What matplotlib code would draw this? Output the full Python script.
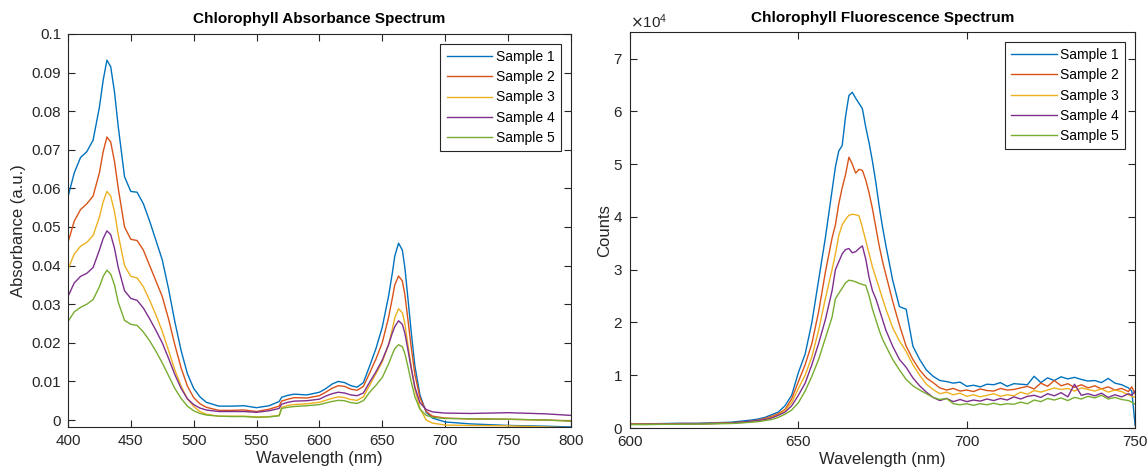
import numpy as np
import matplotlib
matplotlib.use('Agg')
import matplotlib.pyplot as plt

plt.rcParams['font.family'] = ['Liberation Sans', 'DejaVu Sans']

# absorbance spectrum
wl_abs = [400, 405, 410, 415, 420, 425, 428, 431, 434, 437, 440, 445, 450, 455, 460, 465, 470, 475,
          480, 485, 490, 495, 500, 505, 510, 520, 530, 540, 550, 560, 568, 570, 575, 580, 590, 600,
          605, 610, 615, 620, 625, 630, 635, 640, 645, 650, 655, 658, 660, 663, 666, 668, 670, 673,
          676, 680, 685, 690, 700, 720, 750, 780, 800]

abs1 = [0.0578, 0.0640, 0.0680, 0.0695, 0.0725, 0.0810, 0.0880, 0.0932, 0.0915, 0.0850, 0.0760,
        0.0630, 0.0592, 0.0590, 0.0560, 0.0515, 0.0465, 0.0415, 0.0340, 0.0255, 0.0180, 0.0120,
        0.0082, 0.0060, 0.0046, 0.0036, 0.0036, 0.0037, 0.0032, 0.0037, 0.0048, 0.0059, 0.0064,
        0.0067, 0.0065, 0.0072, 0.0081, 0.0093, 0.0100, 0.0097, 0.0089, 0.0085, 0.0097, 0.0140,
        0.0185, 0.0240, 0.0320, 0.0380, 0.0425, 0.0458, 0.0440, 0.0395, 0.0330, 0.0230, 0.0140,
        0.0065, 0.0020, 0.0005, -0.0005, -0.0010, -0.0014, -0.0016, -0.0018]
abs2 = [0.0460, 0.0515, 0.0545, 0.0560, 0.0580, 0.0640, 0.0695, 0.0733, 0.0720, 0.0670, 0.0600,
        0.0500, 0.0468, 0.0465, 0.0440, 0.0400, 0.0360, 0.0320, 0.0262, 0.0195, 0.0135, 0.0088,
        0.0058, 0.0042, 0.0033, 0.0025, 0.0025, 0.0026, 0.0022, 0.0028, 0.0036, 0.0049, 0.0054,
        0.0058, 0.0057, 0.0063, 0.0072, 0.0082, 0.0089, 0.0087, 0.0080, 0.0077, 0.0087, 0.0122,
        0.0158, 0.0200, 0.0265, 0.0315, 0.0350, 0.0373, 0.0360, 0.0325, 0.0272, 0.0190, 0.0118,
        0.0058, 0.0022, 0.0010, 0.0005, 0.0003, 0.0002, 0.0000, -0.0002]
abs3 = [0.0390, 0.0430, 0.0450, 0.0460, 0.0478, 0.0525, 0.0565, 0.0592, 0.0580, 0.0540, 0.0480,
        0.0400, 0.0372, 0.0368, 0.0345, 0.0310, 0.0272, 0.0230, 0.0180, 0.0130, 0.0088, 0.0055,
        0.0035, 0.0022, 0.0015, 0.0010, 0.0010, 0.0010, 0.0008, 0.0009, 0.0012, 0.0033, 0.0038,
        0.0040, 0.0042, 0.0046, 0.0051, 0.0056, 0.0060, 0.0058, 0.0053, 0.0051, 0.0060, 0.0090,
        0.0120, 0.0150, 0.0195, 0.0235, 0.0265, 0.0288, 0.0278, 0.0250, 0.0205, 0.0140, 0.0080,
        0.0030, 0.0000, -0.0008, -0.0013, -0.0014, -0.0015, -0.0018, -0.0020]
abs4 = [0.0320, 0.0355, 0.0372, 0.0380, 0.0395, 0.0440, 0.0470, 0.0490, 0.0480, 0.0445, 0.0395,
        0.0335, 0.0315, 0.0310, 0.0290, 0.0262, 0.0232, 0.0200, 0.0160, 0.0118, 0.0082, 0.0055,
        0.0040, 0.0031, 0.0026, 0.0022, 0.0022, 0.0022, 0.0020, 0.0024, 0.0030, 0.0041, 0.0046,
        0.0049, 0.0050, 0.0054, 0.0062, 0.0068, 0.0072, 0.0070, 0.0065, 0.0063, 0.0070, 0.0098,
        0.0125, 0.0155, 0.0195, 0.0225, 0.0242, 0.0257, 0.0248, 0.0225, 0.0190, 0.0135, 0.0085,
        0.0045, 0.0027, 0.0021, 0.0018, 0.0017, 0.0019, 0.0016, 0.0012]
abs5 = [0.0255, 0.0280, 0.0292, 0.0300, 0.0312, 0.0345, 0.0372, 0.0388, 0.0378, 0.0350, 0.0305,
        0.0258, 0.0248, 0.0245, 0.0228, 0.0205, 0.0178, 0.0148, 0.0115, 0.0082, 0.0056, 0.0036,
        0.0024, 0.0017, 0.0013, 0.0010, 0.0009, 0.0009, 0.0007, 0.0008, 0.0011, 0.0030, 0.0033,
        0.0035, 0.0037, 0.0040, 0.0044, 0.0048, 0.0051, 0.0050, 0.0045, 0.0043, 0.0050, 0.0072,
        0.0090, 0.0110, 0.0145, 0.0170, 0.0185, 0.0195, 0.0190, 0.0172, 0.0145, 0.0100, 0.0060,
        0.0028, 0.0012, 0.0007, 0.0004, 0.0003, 0.0002, 0.0000, -0.0003]

# fluorescence spectrum
wl_fl = [600, 605, 610, 615, 620, 625, 630, 633, 636, 638, 640, 642, 644, 646, 648, 650, 652, 654,
         656, 658, 660, 661, 662, 663, 664, 665, 666, 667, 668, 669, 670, 671, 672, 673, 674, 675,
         676, 678, 680, 682, 684, 686, 688, 690, 692, 694, 696, 698, 700, 702, 704, 706, 708, 710,
         712, 714, 716, 718, 720, 722, 724, 726, 728, 730, 732, 734, 736, 738, 740, 742, 744, 746,
         748, 749, 750]

fl1 = [800, 800, 850, 900, 900, 1000, 1100, 1300, 1500, 1700, 2000, 2500, 3000, 4200, 6200, 10500,
       14000, 20000, 28000, 36000, 45000, 49500, 52500, 53500, 59000, 63000, 63600, 62500, 61500,
       60500, 57000, 54000, 50500, 46500, 42000, 38000, 34500, 28000, 23000, 22500, 15500, 13000,
       11000, 9800, 9000, 8800, 8500, 8700, 7900, 8100, 7800, 8300, 8200, 8600, 7900, 8400, 8300,
       8200, 9800, 8600, 9500, 9000, 9700, 9300, 9600, 9200, 8900, 9000, 8600, 9400, 8500, 8200,
       7600, 7000, 500]
fl2 = [800, 750, 800, 850, 850, 900, 1000, 1100, 1300, 1500, 1800, 2200, 2700, 3500, 5500, 8800,
       12000, 16000, 22000, 29500, 36000, 38500, 42500, 45500, 48000, 51300, 50000, 48300, 49000,
       48800, 47000, 44500, 41500, 38000, 34500, 31500, 29000, 24000, 19500, 15500, 13000, 11000,
       9500, 8600, 7600, 7200, 7500, 7000, 7200, 6900, 7400, 7100, 7000, 7500, 7200, 7300, 7600,
       7900, 7400, 8500, 7900, 9000, 8000, 8400, 7700, 8200, 7600, 8000, 7400, 7800, 7200, 7500,
       6900, 7800, 6500]
fl3 = [750, 700, 750, 800, 800, 850, 950, 1050, 1200, 1400, 1600, 2000, 2500, 3300, 4800, 7500,
       10000, 13500, 18500, 24500, 30000, 33000, 36500, 38500, 39500, 40300, 40500, 40400, 40200,
       38000, 35500, 33000, 30500, 28500, 26500, 24500, 22500, 19000, 16500, 14500, 12000, 10000,
       8300, 7300, 6500, 6800, 6300, 6600, 6000, 6300, 5900, 6200, 6500, 6000, 6300, 6100, 6800,
       6400, 7100, 6800, 7200, 7600, 7300, 7500, 7000, 7600, 7300, 7000, 7400, 6800, 7200, 6900,
       6300, 6000, 5800]
fl4 = [700, 700, 750, 750, 800, 850, 950, 1100, 1300, 1400, 1600, 1900, 2400, 3000, 4200, 6200,
       8500, 12000, 16000, 20500, 26000, 30000, 31500, 33000, 33800, 34000, 33200, 33400, 34000,
       34500, 32000, 28500, 26000, 24500, 22500, 20500, 18500, 15500, 13000, 11500, 9500, 8000,
       6800, 5800, 5200, 5600, 5000, 5400, 5000, 5300, 5100, 5500, 5200, 5600, 5300, 5900, 5500,
       6000, 6200, 5800, 6500, 6100, 6700, 5900, 8300, 6200, 6500, 6100, 6600, 5800, 6300, 5900,
       6500, 6200, 7000]
fl5 = [650, 650, 700, 700, 750, 800, 850, 950, 1100, 1200, 1400, 1600, 2000, 2600, 3400, 4800,
       7000, 9800, 13000, 17000, 21000, 24500, 25500, 26500, 27500, 28000, 27900, 27700, 27400,
       27200, 27000, 25000, 22500, 20500, 18500, 16800, 15500, 13000, 11000, 9200, 8000, 7200,
       6500, 5800, 5400, 5600, 4600, 4400, 4600, 4300, 4600, 4400, 4700, 4400, 4600, 4500, 4900,
       4600, 5300, 5000, 5600, 5300, 5700, 5200, 5800, 5500, 6000, 5700, 6200, 5500, 5800, 5400,
       5200, 4900, 4500]

labels = ['Sample 1', 'Sample 2', 'Sample 3', 'Sample 4', 'Sample 5']
colors = ['#0072BD', '#D95319', '#EDB120', '#7E2F8E', '#77AC30']

axcol = '#262626'

fig = plt.figure(figsize=(11.48, 4.73), dpi=100)
ax1 = fig.add_axes([0.0592, 0.0973, 0.438, 0.831])
ax2 = fig.add_axes([0.5488, 0.0951, 0.44, 0.837])

for y, c, l in zip([abs1, abs2, abs3, abs4, abs5], colors, labels):
    ax1.plot(wl_abs, y, color=c, lw=1.0, label=l)
for y, c, l in zip([fl1, fl2, fl3, fl4, fl5], colors, labels):
    ax2.plot(wl_fl, y, color=c, lw=1.0, label=l)

ax1.set_xlim(400, 800)
ax1.set_ylim(-0.0018, 0.1)
ax1.set_xticks(np.arange(400, 801, 50))
ax1.set_yticks(np.arange(0, 0.101, 0.01))
ax1.set_yticklabels(['0', '0.01', '0.02', '0.03', '0.04', '0.05', '0.06', '0.07', '0.08', '0.09', '0.1'])
ax1.set_title('Chlorophyll Absorbance Spectrum', fontsize=11, fontweight='bold', y=1.0, pad=8)
ax1.set_xlabel('Wavelength (nm)', fontsize=12, color=axcol, labelpad=2)
ax1.set_ylabel('Absorbance (a.u.)', fontsize=12, color=axcol, labelpad=4)

ax2.set_xlim(600, 750)
ax2.set_ylim(0, 75000)
ax2.set_xticks([600, 650, 700, 750])
ax2.set_yticks(np.arange(0, 70001, 10000))
ax2.ticklabel_format(axis='y', style='sci', scilimits=(4, 4), useMathText=True)
ax2.yaxis.get_offset_text().set_fontsize(11)
ax2.yaxis.get_offset_text().set_color(axcol)
ax2.set_title('Chlorophyll Fluorescence Spectrum', fontsize=11, fontweight='bold', y=1.0, pad=7)
ax2.set_xlabel('Wavelength (nm)', fontsize=12, color=axcol, labelpad=2)
ax2.set_ylabel('Counts', fontsize=12, color=axcol, labelpad=1)

for ax in (ax1, ax2):
    ax.tick_params(direction='in', length=5, width=0.8, top=True, right=True,
                   labelsize=11, colors=axcol, pad=5)
    for s in ax.spines.values():
        s.set_color(axcol)
        s.set_linewidth(0.8)
    leg = ax.legend(loc='upper right', fontsize=10, fancybox=False, framealpha=1,
                    edgecolor=axcol, handlelength=3.3, handletextpad=0.25,
                    labelspacing=0.45, borderpad=0.45, borderaxespad=0.7)
    leg.get_frame().set_linewidth(0.8)

plt.savefig('out.png', dpi=100)
